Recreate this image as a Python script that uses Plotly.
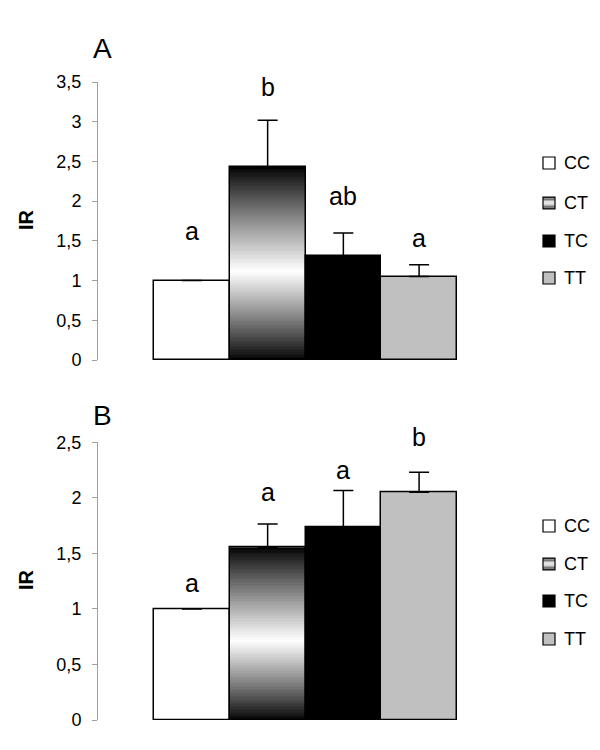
import numpy as np
import plotly.graph_objects as go

# ---------------- data ----------------
genotypes = ["CC", "CT", "TC", "TT"]
bar_colors = ["#ffffff", "rgba(0,0,0,0)", "#000000", "#c0c0c0"]

ir_a = [1.0, 2.43, 1.31, 1.05]
err_a = [None, 0.59, 0.29, 0.15]
letters_a = ["a", "b", "ab", "a"]
letter_y_a = [1.63, 3.44, 2.06, 1.54]
range_a = [0, 3.5]

ir_b = [1.0, 1.555, 1.737, 2.05]
err_b = [None, 0.21, 0.33, 0.18]
letters_b = ["a", "a", "a", "b"]
letter_y_b = [1.23, 2.05, 2.25, 2.55]
range_b = [0, 2.5]

# ---------------- layout helpers (pixels -> paper) ----------------
W, H = 600, 750
ML, MR, MT, MB = 98, 87, 82, 30
PW, PH = W - ML - MR, H - MT - MB


def pxx(px):
    return (px - ML) / PW


def pxy(py):
    return (H - MB - py) / PH


FONT = "Liberation Sans, Arial, sans-serif"
xpos = list(range(len(genotypes)))
xrange = [-1.24, 4.24]

fig = go.Figure()
ann = []


def gradient_rows(top, n=120, center=0.46):
    edges = np.linspace(0, top, n + 1)
    mids = (edges[:-1] + edges[1:]) / 2 / top
    b = np.where(mids < center, mids / center, (1 - mids) / (1 - center))
    b = np.clip(b, 0, 1) ** 0.9
    return edges, [[v] for v in b]


def add_panel(vals, errs, letters, letter_y, yr, xa, ya):
    ct = genotypes.index("CT")
    edges, z = gradient_rows(vals[ct])
    fig.add_trace(go.Heatmap(
        x=[xpos[ct] - 0.5, xpos[ct] + 0.5], y=edges, z=z,
        colorscale=[[0, "#000000"], [1, "#ffffff"]], zmin=0, zmax=1,
        showscale=False, hoverinfo="skip", xaxis=xa, yaxis=ya))
    fig.add_trace(go.Bar(
        x=xpos, y=vals, width=1.0,
        marker=dict(color=bar_colors, line=dict(color="#000000", width=1.5)),
        error_y=dict(type="data", array=errs, symmetric=False,
                     arrayminus=[0] * len(vals),
                     color="#000000", thickness=1.5, width=10),
        showlegend=False, xaxis=xa, yaxis=ya))
    # letters placed in axis-domain coordinates so they are not culled above the range
    for xv, yv, t in zip(xpos, letter_y, letters):
        ann.append(dict(text=t,
                        x=(xv - xrange[0]) / (xrange[1] - xrange[0]),
                        y=(yv - yr[0]) / (yr[1] - yr[0]),
                        xref=xa + " domain", yref=ya + " domain", showarrow=False,
                        xanchor="center", yanchor="middle",
                        font=dict(size=25, color="#000000", family=FONT)))


add_panel(ir_a, err_a, letters_a, letter_y_a, range_a, "x", "y")
add_panel(ir_b, err_b, letters_b, letter_y_b, range_b, "x2", "y2")

axis_x = dict(range=xrange, showline=False, showticklabels=False, ticks="",
              showgrid=False, zeroline=False, fixedrange=True)
axis_y = dict(showline=True, linecolor="#a0a0a0", linewidth=1, ticks="outside",
              ticklen=5, tickcolor="#a0a0a0", tickwidth=1, dtick=0.5,
              showgrid=False, zeroline=False, ticklabelstandoff=7,
              tickfont=dict(size=18, color="#000000", family=FONT))

dom_a = [pxy(360), 1.0]
dom_b = [0.0, pxy(442.3)]

fig.update_layout(
    width=W, height=H,
    margin=dict(l=ML, r=MR, t=MT, b=MB),
    paper_bgcolor="#ffffff", plot_bgcolor="#ffffff",
    separators=", ",
    showlegend=False,
    bargap=0,
    xaxis=dict(axis_x, domain=[0, 1], anchor="y"),
    yaxis=dict(axis_y, domain=dom_a, range=range_a, anchor="x"),
    xaxis2=dict(axis_x, domain=[0, 1], anchor="y2"),
    yaxis2=dict(axis_y, domain=dom_b, range=range_b, anchor="x2"),
)

# panel titles and axis titles
for label, py in [("A", 48), ("B", 415)]:
    ann.append(dict(text=label, x=pxx(102), y=pxy(py), xref="paper", yref="paper",
                    showarrow=False, xanchor="center", yanchor="middle",
                    font=dict(size=28, color="#000000", family=FONT)))
for py in [220, 580]:
    ann.append(dict(text="<b>IR</b>", x=pxx(26), y=pxy(py), xref="paper", yref="paper",
                    showarrow=False, textangle=-90, xanchor="center", yanchor="middle",
                    font=dict(size=20, color="#000000", family=FONT)))

# manual legends
shapes = []
legend_rows = {"A": [163, 203, 241, 278], "B": [526, 564, 601, 639]}
sw = 12
sx0, sx1 = 543, 543 + sw
for rows in legend_rows.values():
    for g, py, col in zip(genotypes, rows, ["#ffffff", None, "#000000", "#c0c0c0"]):
        y0, y1 = py - sw / 2, py + sw / 2
        if col is None:
            n = 8
            for i in range(n):
                t = (i + 0.5) / n
                c = 1 - abs(t - 0.5) * 2
                v = int(40 + 215 * c)
                shapes.append(dict(type="rect", xref="paper", yref="paper",
                                   x0=pxx(sx0), x1=pxx(sx1),
                                   y0=pxy(y0 + i * sw / n), y1=pxy(y0 + (i + 1) * sw / n),
                                   fillcolor=f"rgb({v},{v},{v})", line=dict(width=0)))
            shapes.append(dict(type="rect", xref="paper", yref="paper",
                               x0=pxx(sx0), x1=pxx(sx1), y0=pxy(y0), y1=pxy(y1),
                               fillcolor="rgba(0,0,0,0)", line=dict(color="#000000", width=1.2)))
        else:
            shapes.append(dict(type="rect", xref="paper", yref="paper",
                               x0=pxx(sx0), x1=pxx(sx1), y0=pxy(y0), y1=pxy(y1),
                               fillcolor=col, line=dict(color="#000000", width=1.2)))
        ann.append(dict(text=g, x=pxx(562), y=pxy(py), xref="paper", yref="paper",
                        showarrow=False, xanchor="left", yanchor="middle",
                        font=dict(size=18, color="#000000", family=FONT)))

fig.update_layout(annotations=ann, shapes=shapes)

fig.write_html(
    "out.html",
    config={"displayModeBar": False},
    post_script="document.body.style.margin='0';document.body.style.overflow='hidden';",
)
